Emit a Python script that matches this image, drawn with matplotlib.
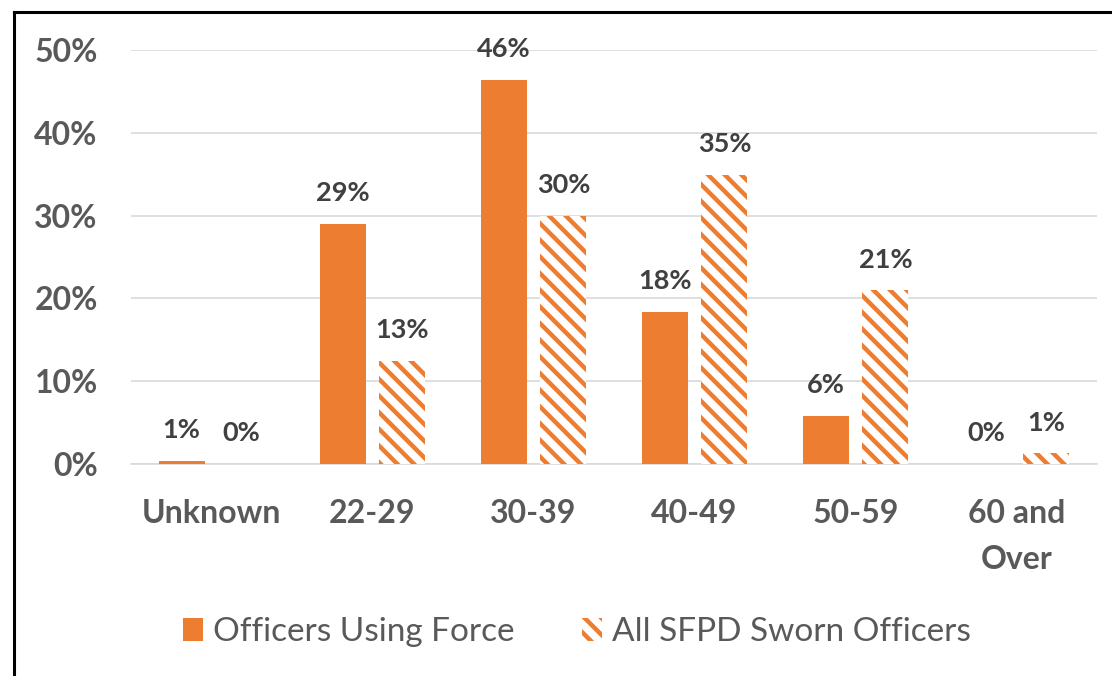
import matplotlib
matplotlib.use("Agg")
import matplotlib.pyplot as plt
import numpy as np
from matplotlib.patches import Patch
from matplotlib.lines import Line2D

categories = ["Unknown", "22-29", "30-39", "40-49", "50-59", "60 and\nOver"]
force_vals = [0.4, 29.0, 46.4, 18.4, 5.8, 0.0]
sworn_vals = [0.0, 12.5, 30.0, 34.9, 21.0, 1.3]
force_labels = ["1%", "29%", "46%", "18%", "6%", "0%"]
sworn_labels = ["0%", "13%", "30%", "35%", "21%", "1%"]
yticks = [0, 10, 20, 30, 40, 50]
series_names = ["Officers Using Force", "All SFPD Sworn Officers"]

ORANGE = "#ED7D31"
GRID = "#D9D9D9"
TICK_C = "#595959"
LABEL_C = "#404040"
FONT = "Lato"
HATCH = "\\\\"

plt.rcParams["hatch.linewidth"] = 3.2

fig = plt.figure(figsize=(11.12, 6.76), dpi=100)
ax = fig.add_axes([131/1112, 1-464/676, (1097-131)/1112, (464-50)/676])

x = np.arange(len(categories))
w = 0.286
off = 0.186
ax.bar(x - off, force_vals, w, color=ORANGE, linewidth=0, zorder=3)
ax.bar(x + off, sworn_vals, w, facecolor="white", edgecolor=ORANGE,
       hatch=HATCH, linewidth=0, zorder=3)

for xs, vals, labs in ((x - off, force_vals, force_labels), (x + off, sworn_vals, sworn_labels)):
    for xi, v, lab in zip(xs, vals, labs):
        ax.annotate(lab, (xi, v), xytext=(0, 22), textcoords="offset points",
                    ha="center", va="center", fontsize=19.5, fontweight="bold",
                    color=LABEL_C, family=FONT)

ax.set_xlim(-0.5, len(categories) - 0.5)
ax.set_ylim(0, 50)
ax.set_yticks(yticks)
ax.set_yticklabels([f"{t}%" for t in yticks])
ax.set_xticks(x)
ax.set_xticklabels(categories, linespacing=1.7)
for lab in ax.get_xticklabels() + ax.get_yticklabels():
    lab.set_fontsize(23)
    lab.set_fontweight("bold")
    lab.set_color(TICK_C)
    lab.set_family(FONT)
ax.tick_params(axis="both", length=0)
ax.tick_params(axis="y", pad=24)
ax.tick_params(axis="x", pad=25)

ax.yaxis.grid(True, color=GRID, linewidth=1.2, zorder=0)
ax.set_axisbelow(True)
for s in ["top", "right", "left"]:
    ax.spines[s].set_visible(False)
ax.spines["bottom"].set_color(GRID)
ax.spines["bottom"].set_linewidth(1.2)

handles = [Patch(facecolor=ORANGE, linewidth=0),
           Patch(facecolor="white", edgecolor=ORANGE, hatch=HATCH, linewidth=0)]
leg = fig.legend(handles, series_names, loc="center", bbox_to_anchor=(577/1112, 1-632/676),
                 ncol=2, frameon=False, handlelength=0.6, handleheight=0.7,
                 handletextpad=0.3, columnspacing=2.0,
                 prop={"family": FONT, "size": 24})
for t in leg.get_texts():
    t.set_color(TICK_C)

# figure frame (top and left only)
fig.add_artist(Line2D([13.5/1112, 13.5/1112], [0, 1-11.5/676], transform=fig.transFigure,
                      color="black", linewidth=2.2))
fig.add_artist(Line2D([13.5/1112, 1], [1-11.5/676, 1-11.5/676], transform=fig.transFigure,
                      color="black", linewidth=2.2))

fig.savefig("out.png", dpi=100)
